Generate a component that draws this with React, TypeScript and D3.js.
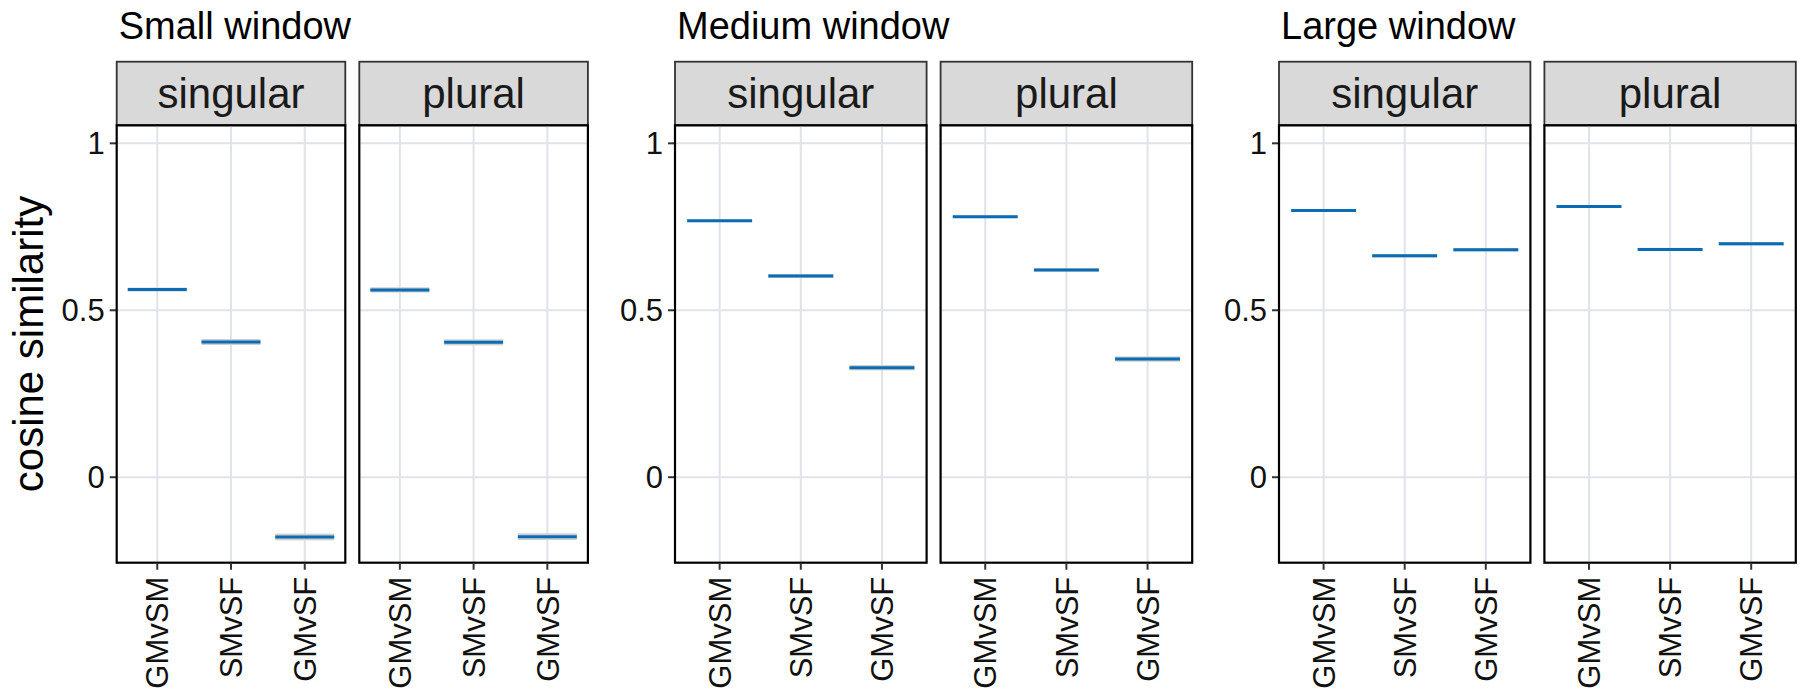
import React from "react";
import * as d3 from "d3";

// facet labels
const windows = ["Small window", "Medium window", "Large window"];
const numbers = ["singular", "plural"];
const comparisons = ["GMvSM", "SMvSF", "GMvSF"];

// mean cosine similarity per comparison
const smallSingular = [0.562, 0.405, -0.179];
const smallPlural = [0.561, 0.404, -0.178];
const mediumSingular = [0.768, 0.603, 0.328];
const mediumPlural = [0.780, 0.621, 0.354];
const largeSingular = [0.799, 0.663, 0.681];
const largePlural = [0.811, 0.682, 0.699];

// half width of the confidence band
const smallSingularCI = [0.006, 0.009, 0.010];
const smallPluralCI = [0.008, 0.009, 0.010];
const mediumSingularCI = [0.004, 0.006, 0.008];
const mediumPluralCI = [0.004, 0.005, 0.008];
const largeSingularCI = [0.004, 0.005, 0.005];
const largePluralCI = [0.004, 0.005, 0.005];

const yTicks = [0, 0.5, 1];

const means = [
  [smallSingular, smallPlural],
  [mediumSingular, mediumPlural],
  [largeSingular, largePlural],
];
const cis = [
  [smallSingularCI, smallPluralCI],
  [mediumSingularCI, mediumPluralCI],
  [largeSingularCI, largePluralCI],
];

const W = 1801;
const H = 691;
const font = "'Liberation Sans', Arial, sans-serif";
const blue = "#0a6cb4";
const gridColor = "#e1e3eb";

// layout of each window group
const groupLeft = [116.7, 675, 1279];
const panelWidth = [228.6, 251.6, 251.4];
const panelGap = 14;
const stripTop = 61.7;
const panelTop = 125.3;
const panelBottom = 562.7;

const App = () => {
  const y = d3.scaleLinear().domain([-0.256, 1.054]).range([panelBottom, panelTop]);

  return (
    <svg width={W} height={H} style={{position: "absolute", left: 0, top: 0, background: "#fff"}}
         fontFamily={font}>
      <rect width={W} height={H} fill="#fff"/>
      {windows.map((win, g) => {
        const pw = panelWidth[g];
        return (
          <g key={win}>
            <text x={groupLeft[g] + 2} y={39} fontSize={38} fill="#000">{win}</text>

            {/* y axis on the first panel of each group */}
            {yTicks.map(t => (
              <g key={t}>
                <line x1={groupLeft[g] - 7} x2={groupLeft[g]} y1={y(t)} y2={y(t)}
                      stroke="#333" strokeWidth={2}/>
                <text x={groupLeft[g] - 12} y={y(t)} dy="0.36em" textAnchor="end"
                      fontSize={31} fill="#111">{t}</text>
              </g>
            ))}

            {numbers.map((num, p) => {
              const left = groupLeft[g] + p * (pw + panelGap);
              const x = d3.scalePoint().domain(comparisons).range([left, left + pw]).padding(0.55);
              const bw = x.step() * 0.8;
              const vals = means[g][p];
              const ci = cis[g][p];
              return (
                <g key={num}>
                  {/* strip */}
                  <rect x={left} y={stripTop} width={pw} height={panelTop - stripTop}
                        fill="#d9d9d9" stroke="#333" strokeWidth={1.8}/>
                  <text x={left + pw / 2} y={108} textAnchor="middle" fontSize={42}
                        fill="#1a1a1a">{num}</text>

                  {/* grid */}
                  {yTicks.map(t => (
                    <line key={t} x1={left} x2={left + pw} y1={y(t)} y2={y(t)}
                          stroke={gridColor} strokeWidth={2}/>
                  ))}
                  {comparisons.map(c => (
                    <line key={c} x1={x(c)} x2={x(c)} y1={panelTop} y2={panelBottom}
                          stroke={gridColor} strokeWidth={2}/>
                  ))}

                  {/* crossbars */}
                  {comparisons.map((c, i) => (
                    <g key={c}>
                      <rect x={x(c)! - bw / 2} width={bw}
                            y={y(vals[i] + ci[i])} height={y(vals[i] - ci[i]) - y(vals[i] + ci[i])}
                            fill="#cfcfcf"/>
                      <line x1={x(c)! - bw / 2} x2={x(c)! + bw / 2} y1={y(vals[i])} y2={y(vals[i])}
                            stroke={blue} strokeWidth={3}/>
                    </g>
                  ))}

                  {/* panel border */}
                  <rect x={left} y={panelTop} width={pw} height={panelBottom - panelTop}
                        fill="none" stroke="#000" strokeWidth={2.2}/>

                  {/* x axis */}
                  {comparisons.map(c => (
                    <g key={c}>
                      <line x1={x(c)} x2={x(c)} y1={panelBottom} y2={panelBottom + 7}
                            stroke="#333" strokeWidth={2}/>
                      <text transform={`translate(${x(c)},${panelBottom + 14}) rotate(-90)`}
                            dy="0.36em" textAnchor="end" fontSize={31} fill="#111">{c}</text>
                    </g>
                  ))}
                </g>
              );
            })}
          </g>
        );
      })}
      <text transform={`translate(43,${(panelTop + panelBottom) / 2}) rotate(-90)`}
            textAnchor="middle" fontSize={42} fill="#000">cosine similarity</text>
    </svg>
  );
};

export default App;
